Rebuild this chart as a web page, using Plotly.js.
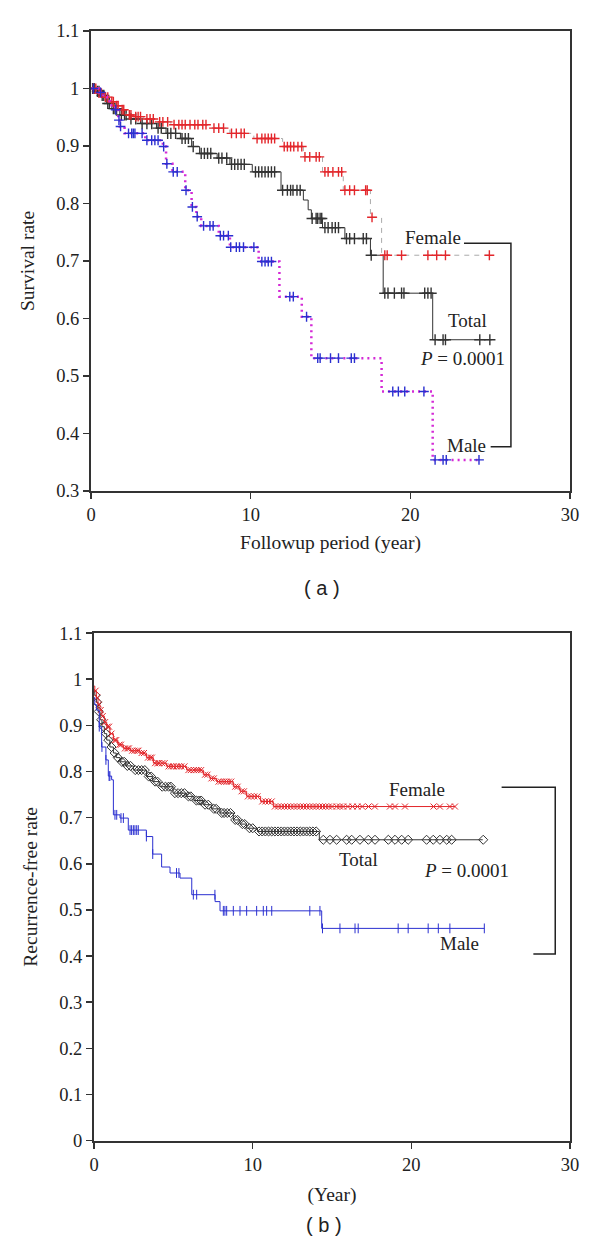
<!DOCTYPE html>
<html>
<head>
<meta charset="utf-8">
<script src="https://cdn.plot.ly/plotly-3.0.1.min.js"></script>
<style>html,body{margin:0;padding:0;background:#fff;}#chart{width:600px;height:1255px;}</style>
</head>
<body>
<div id="chart"></div>
<script>
// ---------- Panel (a): overall survival ----------
const aFemaleT = [0, 0.36, 0.8, 1.19, 1.5, 1.8, 2.2, 2.65, 3.3, 4.1, 5.0, 7.6, 8.7, 10.2, 12.0, 13.3, 14.5, 15.8, 17.5, 18.2, 25.0];
const aFemaleS = [1.0, 0.992, 0.985, 0.977, 0.970, 0.963, 0.954, 0.951, 0.947, 0.942, 0.937, 0.931, 0.922, 0.913, 0.899, 0.881, 0.855, 0.823, 0.776, 0.710, 0.710];
const aFemaleCens = [0.15,0.3,0.5,0.65,0.9,1.05,1.3,1.4,1.6,1.7,1.95,2.05,2.4,2.5,2.8,2.95,3.1,3.5,3.7,3.9,4.3,4.5,4.8,5.2,5.5,5.7,5.9,6.2,6.5,6.7,7.0,7.2,7.7,8.0,8.3,8.8,9.1,9.4,9.6,10.4,10.7,10.9,11.1,11.3,11.5,12.1,12.3,12.5,12.7,12.96,13.2,13.4,13.7,14.1,14.3,14.65,14.85,15.15,15.5,15.7,15.9,16.2,16.5,17.2,17.3,17.6,18.4,18.55,19.45,21.1,21.65,22.2,24.95];

const aTotalT = [0, 0.3, 0.6, 0.98, 1.3, 1.8, 2.4, 3.1, 4.1, 4.7, 5.6, 6.3, 6.8, 7.9, 8.7, 10.1, 11.9, 13.3, 13.6, 13.8, 14.5, 15.9, 17.5, 18.3, 21.4, 25.1];
const aTotalS = [1.0, 0.995, 0.988, 0.974, 0.965, 0.954, 0.947, 0.939, 0.931, 0.922, 0.913, 0.899, 0.887, 0.879, 0.868, 0.855, 0.823, 0.806, 0.789, 0.774, 0.758, 0.739, 0.710, 0.644, 0.563, 0.563];
const aTotalCens = [0.1,0.2,0.4,0.5,0.7,0.8,1.05,1.15,1.4,1.5,1.6,1.9,2.1,2.2,2.5,2.8,3.2,3.5,3.8,4.2,4.4,4.8,5.0,5.3,5.7,5.9,6.1,6.4,6.9,7.1,7.3,7.5,8.0,8.2,8.5,8.8,9.0,9.2,9.4,9.6,10.3,10.5,10.7,10.9,11.1,11.3,11.5,12.0,12.3,12.5,12.65,12.9,13.1,13.85,14.1,14.2,14.35,14.45,14.65,14.85,15.1,15.3,15.5,16.0,16.2,16.5,17.05,17.25,17.55,18.4,18.6,19.0,19.45,19.6,20.9,21.1,21.3,21.55,22.05,22.2,24.35,24.98];

const aMaleT = [0, 0.5, 0.77, 1.0, 1.19, 1.5, 1.7, 1.8, 2.1, 3.4, 4.5, 4.7, 5.1, 5.9, 6.3, 6.6, 6.9, 8.0, 8.7, 10.5, 11.8, 13.2, 13.8, 18.2, 21.4, 24.35];
const aMaleS = [1.0, 0.993, 0.986, 0.978, 0.971, 0.963, 0.945, 0.934, 0.922, 0.910, 0.899, 0.869, 0.855, 0.823, 0.794, 0.777, 0.761, 0.744, 0.724, 0.699, 0.638, 0.603, 0.531, 0.473, 0.354, 0.354];
const aMaleCens = [0.15,0.6,1.55,1.75,1.85,2.35,2.55,2.65,2.75,3.2,3.5,3.8,4.0,4.2,4.55,4.75,5.15,5.4,5.95,6.35,6.65,7.05,7.45,7.65,8.1,8.3,8.6,8.75,9.1,9.3,9.55,10.2,10.7,10.9,11.1,11.3,12.45,12.67,13.5,14.2,14.35,15.0,15.5,16.3,16.5,18.9,19.25,19.65,20.85,21.55,22.05,22.25,24.3];

// ---------- Panel (b): recurrence-free ----------
const bFemaleT = [0, 0.05, 0.15, 0.25, 0.38, 0.5, 0.65, 0.8, 1.0, 1.22, 1.5, 1.85, 2.3, 2.9, 3.3, 3.74, 4.58, 5.84, 6.89, 7.3, 7.73, 8.78, 9.2, 9.62, 10.5, 11.3, 22.75];
const bFemaleS = [0.985, 0.975, 0.96, 0.945, 0.933, 0.92, 0.907, 0.897, 0.882, 0.868, 0.858, 0.85, 0.845, 0.84, 0.83, 0.818, 0.811, 0.803, 0.793, 0.785, 0.778, 0.767, 0.757, 0.746, 0.735, 0.724, 0.724];
const bFemaleCens = [0.1,0.2,0.3,0.42,0.55,0.7,0.85,0.95,1.1,1.3,1.4,1.6,1.7,1.95,2.1,2.2,2.4,2.55,2.7,2.8,3.0,3.15,3.4,3.55,3.65,3.85,4.0,4.1,4.3,4.45,4.7,4.85,5.0,5.2,5.35,5.5,5.7,5.95,6.1,6.3,6.45,6.6,6.75,7.0,7.15,7.4,7.55,7.85,8.0,8.2,8.35,8.5,8.65,8.9,9.05,9.3,9.45,9.7,9.9,10.1,10.3,10.6,10.8,11.0,11.2,11.4,11.6,11.8,12.0,12.2,12.4,12.6,12.8,13.0,13.2,13.4,13.6,13.8,14.0,14.2,14.4,14.6,14.8,15.0,15.3,15.5,15.7,16.0,16.3,16.6,16.9,17.3,17.7,18.65,18.97,19.6,21.4,21.8,22.43,22.75];

const bTotalT = [0, 0.05, 0.15, 0.25, 0.38, 0.5, 0.65, 0.8, 1.0, 1.22, 1.4, 1.64, 2.0, 2.48, 3.31, 3.7, 4.15, 4.98, 5.82, 6.3, 6.88, 7.4, 7.94, 8.78, 9.2, 9.62, 10.3, 14.2, 24.5];
const bTotalS = [0.975, 0.965, 0.95, 0.93, 0.912, 0.897, 0.882, 0.868, 0.853, 0.84, 0.83, 0.821, 0.812, 0.803, 0.789, 0.778, 0.767, 0.753, 0.746, 0.737, 0.728, 0.719, 0.71, 0.695, 0.686, 0.677, 0.67, 0.652, 0.652];
const bTotalCens = [0.1,0.2,0.3,0.45,0.6,0.75,0.9,1.1,1.3,1.5,1.75,1.9,2.1,2.3,2.6,2.8,3.0,3.2,3.45,3.6,3.85,4.0,4.3,4.5,4.7,4.85,5.1,5.3,5.5,5.7,5.95,6.1,6.45,6.6,6.75,7.0,7.2,7.55,7.7,8.05,8.2,8.4,8.6,8.9,9.05,9.35,9.5,9.8,10.0,10.4,10.6,10.8,11.0,11.2,11.4,11.6,11.8,12.0,12.2,12.4,12.6,12.8,13.0,13.2,13.4,13.6,13.8,14.0,14.45,14.87,15.29,15.92,16.24,16.76,17.29,17.71,18.55,18.97,19.39,19.8,20.96,21.38,21.8,22.23,22.54,24.53];

const bMaleT = [0, 0.05, 0.15, 0.33, 0.48, 0.75, 0.9, 1.11, 1.22, 1.64, 2.16, 3.3, 3.7, 4.26, 4.79, 5.42, 6.16, 7.63, 7.94, 14.35, 24.6];
const bMaleS = [0.96, 0.945, 0.933, 0.897, 0.853, 0.825, 0.79, 0.782, 0.706, 0.699, 0.673, 0.659, 0.621, 0.593, 0.58, 0.569, 0.533, 0.518, 0.498, 0.46, 0.46];
const bMaleCens = [0.33,0.5,0.75,0.95,1.0,1.32,1.43,1.7,1.85,2.27,2.37,2.48,2.58,2.69,2.79,3.3,3.7,5.2,5.35,6.26,6.47,7.62,8.15,8.25,8.36,8.78,9.2,9.62,10.25,10.67,10.88,11.2,13.6,14.24,14.4,15.5,16.45,16.65,19.17,19.8,21.06,21.7,22.43,24.6];

// Tick labels
const aXTicks = [0, 10, 20, 30];
const aYTicks = [0.3, 0.4, 0.5, 0.6, 0.7, 0.8, 0.9, 1, 1.1];
const bYTicks = [0, 0.1, 0.2, 0.3, 0.4, 0.5, 0.6, 0.7, 0.8, 0.9, 1, 1.1];

// step-function lookup: survival value at a censoring time
function stepAt(T, S, c) {
  let v = S[0];
  for (let i = 0; i < T.length; i++) { if (T[i] <= c) v = S[i]; }
  return v;
}

const RED = '#e3262b', BLUE = '#2a2fd0', MAG = '#d42ad6';
const SERIF = 'Liberation Serif, Times New Roman, serif';
const SANS = 'Liberation Sans, Arial, sans-serif';
const TXT = '#222';

function curve(T, S, xa, ya, line) {
  return {x: T, y: S, xaxis: xa, yaxis: ya, type: 'scatter', mode: 'lines',
          line: Object.assign({shape: 'hv'}, line), hoverinfo: 'skip', showlegend: false};
}
function marks(T, S, C, xa, ya, marker) {
  return {x: C, y: C.map(c => stepAt(T, S, c)), xaxis: xa, yaxis: ya, type: 'scatter',
          mode: 'markers', marker: marker, hoverinfo: 'skip', showlegend: false};
}

const data = [
  curve(aTotalT, aTotalS, 'x', 'y', {color: '#333', width: 1}),
  marks(aTotalT, aTotalS, aTotalCens, 'x', 'y', {symbol: 'cross-thin', size: 8, color: '#333', line: {width: 1.4, color: '#333'}}),
  curve(aFemaleT, aFemaleS, 'x', 'y', {color: '#aaaaaa', width: 1, dash: '5px,5px'}),
  marks(aFemaleT, aFemaleS, aFemaleCens, 'x', 'y', {symbol: 'cross-thin', size: 7, color: RED, line: {width: 1.4, color: RED}}),
  curve(aMaleT, aMaleS, 'x', 'y', {color: MAG, width: 2.5, dash: '2px,4px'}),
  marks(aMaleT, aMaleS, aMaleCens, 'x', 'y', {symbol: 'cross-thin', size: 7, color: BLUE, line: {width: 1.4, color: BLUE}}),

  curve(bTotalT, bTotalS, 'x2', 'y2', {color: '#333', width: 1}),
  marks(bTotalT, bTotalS, bTotalCens, 'x2', 'y2', {symbol: 'diamond-open', size: 7, color: '#333', line: {width: 1}}),
  curve(bFemaleT, bFemaleS, 'x2', 'y2', {color: RED, width: 1}),
  marks(bFemaleT, bFemaleS, bFemaleCens, 'x2', 'y2', {symbol: 'x-thin', size: 6, color: RED, line: {width: 1, color: RED}}),
  curve(bMaleT, bMaleS, 'x2', 'y2', {color: BLUE, width: 1}),
  marks(bMaleT, bMaleS, bMaleCens, 'x2', 'y2', {symbol: 'line-ns', size: 7, color: BLUE, line: {width: 1, color: BLUE}})
];

const axCommon = {
  showgrid: false, zeroline: false, showline: true, linecolor: '#333', linewidth: 2,
  mirror: true, ticks: 'outside', ticklen: 6, tickwidth: 1.5, tickcolor: '#333',
  tickfont: {family: SERIF, size: 18.5, color: TXT}, fixedrange: true
};
const titleFont = {family: SERIF, size: 19.5, color: TXT};
const labelFont = {family: SERIF, size: 19, color: TXT};

const layout = {
  width: 600, height: 1255, margin: {l: 0, r: 0, t: 0, b: 0},
  paper_bgcolor: '#fff', plot_bgcolor: '#fff', showlegend: false,
  xaxis: Object.assign({}, axCommon, {domain: [0.1517, 0.95], range: [0, 30], tickvals: aXTicks, anchor: 'y',
    title: {text: 'Followup period (year)', font: titleFont, standoff: 11}}),
  yaxis: Object.assign({}, axCommon, {domain: [0.6088, 0.9753], range: [0.3, 1.1], tickvals: aYTicks, anchor: 'x',
    title: {text: 'Survival rate', font: titleFont, standoff: 16}}),
  xaxis2: Object.assign({}, axCommon, {domain: [0.1567, 0.95], range: [0, 30], tickvals: aXTicks, anchor: 'y2',
    title: {text: '(Year)', font: titleFont, standoff: 13}}),
  yaxis2: Object.assign({}, axCommon, {domain: [0.0911, 0.4956], range: [0, 1.1], tickvals: bYTicks, anchor: 'x2',
    title: {text: 'Recurrence-free rate', font: titleFont, standoff: 16}}),
  annotations: [
    {xref: 'x', yref: 'y', x: 21.4, y: 0.740, text: 'Female', showarrow: false, font: labelFont},
    {xref: 'x', yref: 'y', x: 23.6, y: 0.597, text: 'Total', showarrow: false, font: labelFont},
    {xref: 'x', yref: 'y', x: 23.27, y: 0.530, text: '<i>P</i> = 0.0001', showarrow: false, font: labelFont},
    {xref: 'x', yref: 'y', x: 23.5, y: 0.379, text: 'Male', showarrow: false, font: labelFont},
    {xref: 'x2', yref: 'y2', x: 20.33, y: 0.7616, text: 'Female', showarrow: false, font: labelFont},
    {xref: 'x2', yref: 'y2', x: 16.65, y: 0.610, text: 'Total', showarrow: false, font: labelFont},
    {xref: 'x2', yref: 'y2', x: 23.48, y: 0.5845, text: '<i>P</i> = 0.0001', showarrow: false, font: labelFont},
    {xref: 'x2', yref: 'y2', x: 23.06, y: 0.428, text: 'Male', showarrow: false, font: labelFont},
    {xref: 'paper', yref: 'paper', x: 322 / 600, y: 1 - 588 / 1255, text: '(&nbsp;a&nbsp;)', showarrow: false, font: {family: SANS, size: 20, color: TXT}},
    {xref: 'paper', yref: 'paper', x: 324 / 600, y: 1 - 1238 / 1255, text: '(&nbsp;b&nbsp;)', showarrow: false, font: {family: SANS, size: 20, color: TXT}}
  ],
  shapes: [
    {type: 'path', xref: 'x', yref: 'y', path: 'M 23.36 0.731 L 26.3 0.731 L 26.3 0.377 L 25.03 0.377', line: {color: '#222', width: 1.5}},
    {type: 'path', xref: 'x2', yref: 'y2', path: 'M 25.69 0.766 L 29.07 0.766 L 29.07 0.4046 L 27.69 0.4046', line: {color: '#222', width: 1.5}}
  ]
};

Plotly.newPlot('chart', data, layout, {displayModeBar: false, staticPlot: true});
</script>
</body>
</html>
